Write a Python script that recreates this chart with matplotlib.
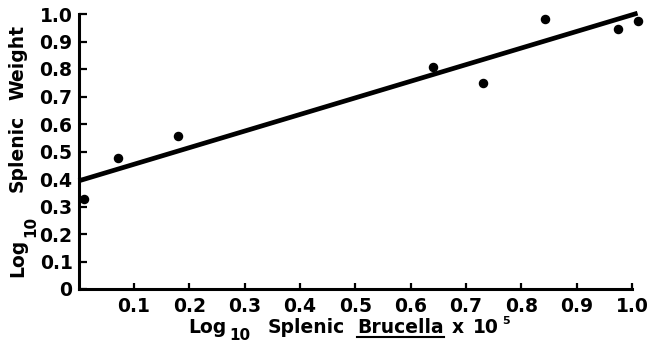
import matplotlib
matplotlib.use('Agg')
from matplotlib import pyplot as plt
from matplotlib.lines import Line2D

plt.rcParams['font.family'] = ['DejaVu Sans']
plt.rcParams['font.weight'] = 'bold'

# punti
brucella = [0.01, 0.071, 0.18, 0.641, 0.731, 0.842, 0.974, 1.01]
peso = [0.327, 0.476, 0.556, 0.807, 0.749, 0.982, 0.945, 0.975]

# retta di regressione (estremi)
retta_x = [0.0, 1.01]
retta_y = [0.393, 1.003]

yticks = [0, 0.1, 0.2, 0.3, 0.4, 0.5, 0.6, 0.7, 0.8, 0.9, 1.0]
ytick_labels = ['0', '0.1', '0.2', '0.3', '0.4', '0.5', '0.6', '0.7', '0.8', '0.9', '1.0']
xticks = [0.1, 0.2, 0.3, 0.4, 0.5, 0.6, 0.7, 0.8, 0.9, 1.0]
xtick_labels = ['0.1', '0.2', '0.3', '0.4', '0.5', '0.6', '0.7', '0.8', '0.9', '1.0']

W, H = 649, 346
fig = plt.figure(figsize=(W / 100, H / 100), dpi=100)
ax = fig.add_axes([78.5 / W, 1 - 289 / H, (632 - 78.5) / W, (289 - 14) / H])

ax.plot(retta_x, retta_y, color='black', linewidth=3.4, clip_on=False, solid_capstyle='butt')
ax.scatter(brucella, peso, s=34, color='black', zorder=3, clip_on=False)

ax.set_xlim(0, 1.0)
ax.set_ylim(0, 1.0)
ax.spines['top'].set_visible(False)
ax.spines['right'].set_visible(False)
ax.spines['left'].set_linewidth(2.2)
ax.spines['bottom'].set_linewidth(2.2)

ax.set_yticks(yticks)
ax.set_yticklabels(ytick_labels, fontsize=13.5, fontweight='bold')
ax.set_xticks(xticks)
ax.set_xticklabels(xtick_labels, fontsize=13.5, fontweight='bold')
ax.tick_params(axis='x', direction='in', length=4, width=1.6, pad=5.5)
ax.tick_params(axis='y', direction='in', length=5.5, width=1.6, pad=4.3)


def testo(x, y, s, size=13.5, **kw):
    # x, y in pixel dall'alto a sinistra
    return fig.text(x / W, 1 - y / H, s, fontsize=size, fontweight='bold',
                    ha='left', va='baseline', **kw)


# etichetta asse x
testo(188, 333, 'Log')
testo(229, 340, '10', size=11)
testo(268, 333, 'Splenic')
t_bru = testo(357, 333, 'Brucella')
testo(452, 333, 'x')
testo(473, 333, '10')
testo(502, 324, '5', size=8)

fig.canvas.draw()
bb = t_bru.get_window_extent(fig.canvas.get_renderer())
fig.add_artist(Line2D([bb.x0 / W, bb.x1 / W], [1 - 336.5 / H, 1 - 336.5 / H],
                      color='black', linewidth=1.5))

# etichetta asse y (ruotata)
rot = dict(rotation=90, rotation_mode='anchor')
testo(23, 277, 'Log', **rot)
testo(35, 237, '10', size=11, **rot)
testo(23, 192, 'Splenic', **rot)
testo(23, 100, 'Weight', **rot)

fig.savefig('out.png', dpi=100)
